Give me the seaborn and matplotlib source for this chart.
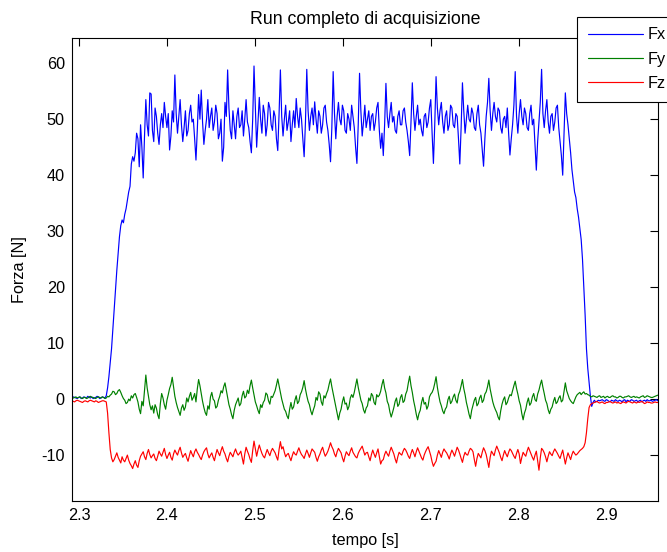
import numpy as np
import pandas as pd
import matplotlib
matplotlib.use("Agg")
import matplotlib.pyplot as plt
import seaborn as sns

# Sampling of the acquisition run
t_start = 2.292
dt = 0.0015

# Force components [N], one value per sample
fx = [
    0.2, 0.4, 0.3, 0.2, 0.1, 0.3, 0.4, 0.1, 0.2, 0.4, 0.3, 0.2, 0.5, 0.3, 0.2, 0.4, 0.1, 0.2, 0.3, 0.5,
    0.4, 0.1, 0.2, 0.4, 0.3, 0.2, 0.6, 2.0, 4.0, 6.5, 9.0, 12.5, 16.0, 19.5, 23.0, 26.0, 29.0, 31.0, 32.0, 31.5,
    33.0, 34.0, 35.5, 37.0, 38.0, 42.0, 43.3, 42.5, 44.0, 47.5, 46.5, 41.5, 49.0, 45.0, 39.5, 47.0, 53.5, 49.0, 47.0, 54.7,
    54.5, 48.0, 46.0, 52.0, 50.5, 47.5, 45.5, 49.0, 51.0, 48.5, 53.0, 50.5, 48.5, 51.0, 44.5, 47.0, 51.5, 49.5, 57.9, 51.0,
    47.5, 50.5, 53.5, 49.0, 46.0, 48.5, 51.5, 47.0, 48.0, 51.0, 52.5, 49.5, 50.0, 46.5, 42.7, 48.0, 54.4, 50.0, 55.2, 49.5,
    45.5, 48.0, 50.0, 53.5, 48.5, 50.5, 52.0, 48.0, 49.5, 52.5, 51.0, 46.5, 47.5, 50.0, 42.5, 45.0, 53.0, 50.5, 58.8, 52.0,
    48.0, 46.5, 51.5, 49.0, 46.5, 50.5, 52.0, 48.5, 49.0, 51.5, 47.0, 50.0, 53.5, 49.5, 48.5, 46.0, 44.0, 50.0, 59.5, 52.5,
    45.0, 49.5, 53.9, 50.0, 47.5, 52.5, 51.0, 47.0, 49.0, 53.0, 52.0, 49.0, 48.0, 51.5, 50.5, 46.5, 44.4, 51.0, 58.8, 50.5,
    47.0, 50.0, 52.5, 48.0, 49.5, 51.5, 46.0, 49.0, 51.5, 48.5, 53.7, 50.5, 48.5, 52.0, 50.0, 46.5, 43.3, 49.5, 58.9, 51.5,
    48.0, 50.5, 52.0, 49.0, 53.1, 50.0, 47.5, 51.5, 50.5, 47.5, 49.0, 52.0, 52.5, 49.5, 48.0, 45.5, 42.4, 48.5, 58.5, 51.0,
    46.5, 50.5, 53.0, 50.0, 49.0, 52.5, 51.5, 48.0, 47.5, 51.0, 50.0, 48.0, 52.5, 50.5, 48.5, 45.0, 42.1, 49.0, 58.2, 51.5,
    47.0, 49.5, 52.5, 48.5, 50.0, 51.5, 48.0, 50.5, 51.0, 48.0, 49.5, 52.0, 53.0, 48.0, 44.8, 47.5, 43.5, 49.0, 56.4, 50.5,
    48.5, 51.0, 53.0, 49.5, 50.5, 48.0, 47.5, 50.5, 51.5, 49.0, 49.0, 51.5, 52.0, 49.5, 48.0, 46.0, 43.5, 49.5, 56.5, 51.0,
    48.0, 50.5, 52.5, 49.0, 50.0, 48.0, 47.0, 50.5, 51.0, 48.5, 49.5, 52.0, 53.5, 47.5, 42.1, 49.0, 57.6, 52.0, 49.0, 51.5,
    53.0, 49.5, 47.5, 50.5, 51.5, 48.0, 49.0, 52.5, 52.0, 49.0, 48.5, 51.0, 50.5, 46.5, 42.0, 48.5, 56.5, 51.5, 47.5, 50.0,
    52.5, 50.0, 49.5, 52.0, 51.0, 48.5, 48.0, 51.0, 52.5, 49.0, 47.5, 44.5, 41.6, 46.5, 50.5, 53.0, 57.3, 51.5, 48.0, 51.0,
    53.0, 50.5, 49.5, 52.0, 51.5, 48.5, 47.5, 50.0, 50.5, 48.5, 52.0, 47.5, 43.6, 46.5, 49.0, 52.5, 58.5, 50.5, 47.5, 51.0,
    53.5, 50.5, 49.0, 52.0, 51.0, 48.5, 48.0, 51.0, 52.5, 49.0, 50.0, 45.5, 40.9, 46.0, 49.5, 53.0, 58.9, 51.0, 48.5, 51.5,
    53.5, 49.5, 47.5, 50.5, 51.0, 48.0, 49.5, 52.0, 52.5, 48.5, 46.0, 43.5, 40.0, 47.5, 54.7, 51.0, 49.0, 46.5, 44.0, 41.0,
    39.0, 37.0, 36.0, 34.0, 32.5, 30.5, 28.5, 25.0, 20.0, 15.0, 9.0, 5.5, 3.0, 0.5, -1.3, -0.6, -0.2, -0.5, -0.4, -0.2,
    -0.3, -0.2, -0.1, -0.3, -0.4, -0.1, -0.2, -0.4, -0.5, -0.2, -0.3, -0.4, -0.1, -0.3, -0.4, -0.2, -0.3, -0.5, -0.2, -0.1,
    -0.5, -0.2, -0.3, -0.4, -0.1, -0.2, -0.4, -0.3, -0.2, -0.5, -0.3, -0.2, -0.5, -0.3, -0.2, -0.4, -0.1, -0.3, -0.3, -0.2,
    -0.4, -0.3, -0.2, -0.1, -0.3,
]

fy = [
    0.1, 0.2, 0.3, 0.4, 0.2, 0.3, 0.4, 0.2, 0.1, 0.3, 0.3, 0.1, 0.2, 0.4, 0.5, 0.3, 0.3, 0.2, 0.1, 0.3,
    0.4, 0.3, 0.2, 0.4, 0.3, 0.1, 0.2, 0.5, 0.4, 0.7, 0.9, 1.4, 1.3, 0.8, 1.0, 1.5, 1.7, 1.2, 0.6, 0.1,
    -0.2, -0.8, -0.6, 0.0, -0.3, 0.6, 0.2, 0.8, 1.0, 0.3, -0.5, -1.8, -2.6, -0.4, -1.2, 1.5, 4.3, 2.0, 0.5, -1.0,
    -1.9, -1.2, -2.5, -1.0, -1.6, -2.8, -3.5, -0.8, 1.0, 0.2, -1.0, -1.8, -0.2, 0.8, 1.9, 2.6, 3.9, 2.2, 0.5, -0.6,
    -1.5, -2.2, -2.9, -1.6, -1.0, -2.0, -1.4, 0.2, -0.5, 0.5, 1.2, -0.2, 0.3, 1.0, -0.5, 1.8, 3.5, 2.4, 1.0, -0.4,
    -1.5, -2.4, -2.9, -1.2, -1.8, 0.4, 1.2, 0.0, -0.3, -1.6, -1.3, -0.2, 0.5, 1.5, 1.1, 2.2, 2.9, 1.6, 0.2, -1.0,
    -1.8, -2.8, -3.5, -2.0, -1.0, -0.4, 0.2, -1.2, -0.8, 0.6, 1.4, 0.2, 0.5, 1.6, 1.0, 2.4, 3.4, 2.0, 0.8, -0.5,
    -1.2, -2.0, -2.6, -1.0, -1.5, -0.6, -0.2, 1.1, 0.8, -0.3, -0.9, 0.5, 0.3, 0.9, 1.5, 2.5, 3.6, 2.4, 1.2, 0.0,
    -0.9, -1.8, -2.2, -3.0, -3.5, -1.8, -0.6, -1.8, -1.4, -0.2, 0.6, -0.8, -0.4, 0.8, 1.3, 2.1, 3.3, 1.8, 0.6, -0.4,
    -1.0, -2.1, -2.8, -1.9, -1.2, 0.3, -0.2, 1.3, 0.9, -0.5, -1.1, 0.6, 0.2, 1.0, 1.6, 2.7, 3.6, 2.2, 1.0, -0.3,
    -1.5, -2.6, -3.7, -2.5, -1.8, -0.5, 0.4, -0.9, -0.7, -1.9, -1.3, 0.2, 0.8, 0.3, 1.2, 2.4, 3.6, 2.1, 0.9, -0.2,
    -0.8, -1.9, -2.5, -1.6, -1.2, 0.2, -0.3, 1.0, 0.6, -0.6, -1.0, 0.8, 0.4, 0.7, 1.4, 2.6, 3.5, 2.0, 1.1, -0.4,
    -1.0, -2.3, -3.2, -2.4, -1.5, -0.4, 0.2, -1.3, -0.9, 0.3, 0.8, -0.6, -0.3, 0.9, 1.5, 2.9, 4.1, 2.4, 1.2, -0.3,
    -1.4, -2.7, -3.7, -2.6, -2.0, -0.6, 0.3, -0.9, -0.6, -1.8, -1.2, 0.4, 0.9, 1.2, 1.8, 2.8, 4.0, 2.1, 0.7, -0.5,
    -1.2, -2.1, -2.6, -1.8, -1.4, -0.1, 0.5, -0.8, -0.4, 0.4, 0.9, -0.2, -0.7, 0.8, 1.4, 2.4, 3.5, 1.9, 0.8, -0.6,
    -1.6, -2.7, -3.5, -2.0, -1.1, -0.2, 0.3, -1.2, -0.8, 0.2, 0.7, -0.6, -0.2, 0.9, 1.3, 2.2, 3.4, 1.8, 0.6, -0.5,
    -1.3, -1.9, -2.4, -3.2, -3.7, -2.1, -0.9, -0.1, 0.4, -1.0, -0.6, 0.2, 0.8, 0.6, 1.5, 2.4, 3.2, 1.9, 0.9, -0.3,
    -1.1, -2.6, -3.7, -2.5, -1.8, -0.6, 0.2, -1.1, -0.7, 0.4, 1.0, -0.1, -0.4, 0.9, 1.6, 2.6, 3.4, 2.1, 1.0, -0.2,
    -0.8, -1.9, -2.6, -1.8, -1.4, -0.4, 0.3, -0.8, -0.5, 0.2, 0.6, -0.5, -0.2, 1.4, 2.9, 1.5, 0.8, 0.1, -0.3, -0.6,
    -0.8, -0.2, 0.4, 0.8, 1.0, 1.2, 0.8, 1.1, 1.3, 0.9, 1.0, 0.8, 0.7, 0.5, 0.4, 0.6, 0.5, 0.4, 0.3, 0.5,
    0.6, 0.3, 0.4, 0.5, 0.2, 0.4, 0.5, 0.3, 0.3, 0.5, 0.6, 0.4, 0.4, 0.2, 0.3, 0.5, 0.5, 0.3, 0.2, 0.4,
    0.4, 0.5, 0.6, 0.4, 0.3, 0.4, 0.5, 0.3, 0.4, 0.3, 0.2, 0.4, 0.5, 0.6, 0.3, 0.4, 0.6, 0.5, 0.4, 0.3,
    0.3, 0.4, 0.5, 0.6, 0.7,
]

fz = [
    -0.3, -0.4, -0.5, -0.3, -0.2, -0.3, -0.4, -0.5, -0.6, -0.4, -0.3, -0.4, -0.5, -0.3, -0.2, -0.3, -0.4, -0.5, -0.3, -0.4,
    -0.6, -0.5, -0.4, -0.3, -0.3, -0.4, -0.5, -2.5, -6.0, -9.0, -10.5, -11.2, -10.8, -10.2, -9.6, -10.4, -10.9, -11.4, -10.3, -10.9,
    -11.2, -10.6, -10.0, -10.9, -11.5, -11.9, -12.4, -11.6, -11.0, -11.8, -12.2, -11.0, -10.2, -9.8, -9.4, -10.3, -10.8, -9.7, -9.0, -9.9,
    -10.5, -10.1, -9.8, -10.6, -11.0, -10.2, -9.3, -9.8, -10.2, -9.5, -8.8, -9.9, -10.6, -10.0, -9.5, -10.4, -10.9, -9.8, -9.1, -9.6,
    -10.0, -9.2, -8.6, -9.6, -10.4, -10.0, -9.7, -10.5, -11.1, -10.1, -9.2, -9.8, -10.3, -9.4, -8.9, -9.5, -9.9, -10.4, -10.8, -10.0,
    -9.4, -9.0, -8.7, -9.8, -10.5, -10.0, -9.6, -10.4, -11.0, -9.9, -9.0, -9.6, -10.1, -9.2, -8.5, -9.3, -9.8, -10.6, -11.2, -10.2,
    -9.5, -9.9, -10.3, -9.5, -8.9, -9.6, -10.0, -9.7, -9.3, -10.5, -11.6, -9.8, -8.6, -9.3, -9.9, -10.7, -11.3, -9.2, -7.5, -8.8,
    -10.2, -9.1, -8.2, -9.0, -9.7, -10.2, -10.5, -9.7, -9.0, -9.6, -10.1, -9.3, -8.8, -9.2, -9.6, -10.3, -10.9, -9.0, -7.6, -8.9,
    -8.5, -9.5, -10.3, -9.9, -9.7, -10.4, -11.0, -10.1, -9.4, -9.8, -10.0, -9.3, -8.7, -9.4, -9.9, -10.2, -10.6, -9.8, -9.1, -9.7,
    -10.4, -9.6, -8.9, -9.2, -9.5, -10.4, -11.1, -10.3, -9.8, -9.1, -8.6, -9.5, -10.2, -9.8, -9.3, -8.6, -7.8, -8.5, -9.0, -9.8,
    -10.3, -9.4, -8.8, -9.2, -9.6, -10.5, -11.2, -10.2, -9.4, -9.8, -10.1, -9.3, -8.7, -9.5, -9.9, -10.3, -10.5, -9.7, -9.2, -8.8,
    -8.4, -9.2, -10.0, -9.6, -9.5, -10.3, -11.0, -9.9, -9.1, -9.8, -10.4, -9.6, -8.9, -10.2, -11.6, -11.0, -10.8, -9.9, -9.3, -9.8,
    -10.2, -9.3, -8.6, -9.2, -9.8, -10.7, -11.4, -10.3, -9.5, -9.8, -10.0, -9.3, -8.8, -9.1, -9.6, -10.2, -10.6, -9.7, -9.0, -9.6,
    -10.3, -9.4, -8.7, -9.3, -9.9, -10.5, -10.9, -10.0, -9.4, -8.9, -8.5, -9.3, -10.1, -11.2, -12.0, -11.5, -11.1, -10.0, -9.2, -9.8,
    -10.4, -9.5, -8.9, -9.3, -9.6, -10.1, -10.7, -9.8, -9.1, -9.6, -10.2, -9.4, -8.6, -9.1, -9.8, -10.6, -11.3, -10.2, -9.5, -9.9,
    -10.0, -9.3, -8.8, -9.0, -9.4, -10.8, -12.0, -10.6, -9.7, -10.1, -10.5, -9.5, -8.7, -9.2, -9.9, -11.1, -12.2, -10.4, -9.3, -9.7,
    -10.1, -9.1, -8.4, -9.0, -9.6, -10.4, -11.0, -10.0, -9.2, -9.8, -10.3, -9.5, -8.9, -9.2, -9.7, -10.2, -10.6, -9.7, -9.0, -9.8,
    -11.5, -10.4, -9.5, -9.9, -10.2, -9.3, -8.6, -9.2, -9.8, -10.4, -10.9, -10.0, -9.3, -11.0, -12.7, -10.5, -8.8, -9.1, -9.6, -10.3,
    -11.2, -10.2, -9.4, -9.8, -10.1, -9.4, -8.9, -9.3, -9.7, -10.2, -10.6, -9.8, -9.1, -10.4, -11.6, -10.5, -9.6, -10.2, -10.8, -9.9,
    -9.3, -9.7, -10.0, -9.8, -9.5, -9.2, -9.0, -8.8, -8.5, -7.8, -6.0, -3.5, -1.5, -1.0, -0.8, -0.7, -0.6, -0.5, -0.4, -0.6,
    -0.7, -0.6, -0.5, -0.7, -0.8, -0.6, -0.6, -0.5, -0.4, -0.6, -0.7, -0.6, -0.5, -0.7, -0.6, -0.7, -0.8, -0.6, -0.5, -0.6,
    -0.7, -0.5, -0.4, -0.5, -0.6, -0.7, -0.5, -0.6, -0.7, -0.5, -0.6, -0.5, -0.4, -0.6, -0.8, -0.7, -0.5, -0.6, -0.6, -0.7,
    -0.7, -0.6, -0.5, -0.6, -0.6,
]

series_names = ["Fx", "Fy", "Fz"]
series_colors = {"Fx": "#0000ff", "Fy": "#008000", "Fz": "#ff0000"}
x_ticks = [2.3, 2.4, 2.5, 2.6, 2.7, 2.8, 2.9]
y_ticks = [-10, 0, 10, 20, 30, 40, 50, 60]

df = pd.concat(
    [pd.DataFrame({"tempo": t_start + dt * np.arange(len(vals)),
                   "forza": vals, "serie": name})
     for name, vals in zip(series_names, [fx, fy, fz])],
    ignore_index=True,
)

sns.set_theme(style="white")
plt.rcParams["font.family"] = ["Liberation Sans", "DejaVu Sans"]
plt.rcParams["text.color"] = "black"
plt.rcParams["axes.labelcolor"] = "black"

W, H = 667, 552
fig = plt.figure(figsize=(W / 100, H / 100), dpi=100)
ax_l, ax_r, ax_t, ax_b = 71.7, 658.3, 38.3, 501.0
ax = fig.add_axes([ax_l / W, 1 - ax_b / H, (ax_r - ax_l) / W, (ax_b - ax_t) / H])

sns.lineplot(
    data=df, x="tempo", y="forza", hue="serie", hue_order=series_names,
    palette=series_colors, linewidth=0.85, estimator=None, sort=False,
    legend=False, ax=ax,
)

ax.set_xlim(2.2917, 2.9587)
ax.set_ylim(-18.2, 64.45)
ax.set_xticks(x_ticks)
ax.set_xticklabels([f"{v:.1f}" for v in x_ticks])
ax.set_yticks(y_ticks)
ax.set_yticklabels([str(v) for v in y_ticks])

fs = 11.7
ax.tick_params(direction="in", length=6, width=0.8, top=True, right=True,
               labelsize=fs, pad=5, colors="black")
for sp in ax.spines.values():
    sp.set_color("black")
    sp.set_linewidth(0.8)

ax.set_title("Run completo di acquisizione", fontsize=12.8, pad=10, color="black")
ax.set_xlabel("tempo [s]", fontsize=fs, labelpad=7)
ax.set_ylabel("Forza [N]", fontsize=fs, labelpad=10)

leg = ax.legend(
    ax.get_lines()[:3], series_names,
    loc="upper left", bbox_to_anchor=(577 / W, 1 - 16.7 / H),
    bbox_transform=fig.transFigure, borderaxespad=0,
    frameon=True, fancybox=False, framealpha=1, edgecolor="black",
    fontsize=fs, handlelength=3.4, handletextpad=0.3,
    borderpad=0.65, labelspacing=0.58,
)
leg.get_frame().set_linewidth(0.8)

fig.savefig("out.png", dpi=100)
